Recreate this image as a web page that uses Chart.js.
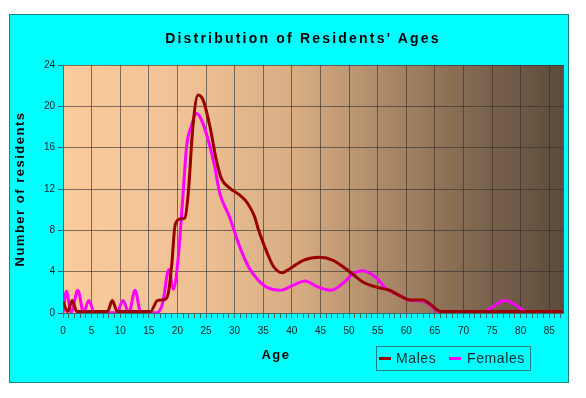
<!DOCTYPE html>
<html lang="en">
<head>
    <meta charset="UTF-8">
    <title>Distribution of Residents' Ages</title>
    <style>
        body { margin: 0; background: #fff; font-family: "Liberation Sans", Arial, sans-serif; }
        #wrap { position: relative; width: 586px; height: 398px; }
        #frame { position: absolute; left: 9px; top: 14px; width: 560px; height: 369px; box-sizing: border-box;
                 background: #00ffff; border: 1px solid #1f7f7f; }
        canvas { position: absolute; left: 0; top: 0; }
        .txt { position: absolute; white-space: nowrap; }
        #title { left: 103px; width: 400px; top: 30px; line-height: 16px; text-align: center;
                 font-weight: bold; font-size: 14px; letter-spacing: 2.2px; color: #000; }
        #xtitle { left: 240px; width: 72px; top: 347px; line-height: 16px; text-align: center;
                  font-weight: bold; font-size: 13px; letter-spacing: 1.5px; color: #000; }
        #legend { position: absolute; left: 376px; top: 346px; width: 155px; height: 25px; box-sizing: border-box;
                  border: 1px solid #1f7f7f; }
        .mark { position: absolute; top: 10px; width: 12px; height: 3px; }
        .lab { position: absolute; top: 3px; line-height: 17px; font-size: 14px; letter-spacing: 0.6px; color: #0d2b2b; }
    </style>
</head>
<body>
<div id="wrap">
    <div id="frame"></div>
    <canvas id="ages" width="586" height="398"></canvas>
    <div class="txt" id="title">Distribution of Residents' Ages</div>
    <div class="txt" id="xtitle">Age</div>
    <div id="legend">
        <span class="mark" style="left:2px;background:#990000"></span>
        <span class="lab" style="left:19px">Males</span>
        <span class="mark" style="left:72px;background:#ff00ff"></span>
        <span class="lab" style="left:90px">Females</span>
    </div>
</div>

<script src="https://cdn.jsdelivr.net/npm/chart.js"></script>
<script>
    // ages (years) and number of residents
    const maleAges = [0, 0.8, 1.6, 2.4, 7.8, 8.6, 9.5, 15.3, 16.5, 17.7, 18.4, 19.0, 19.6, 20.5, 21.3, 21.9,
        22.7, 23.6, 24.5, 25.7, 26.8, 27.7, 29.1, 30.9, 32.3, 33.5, 34.2, 35.7, 36.8, 38.3, 39.7, 42.0,
        44.9, 47.2, 50.1, 52.4, 54.8, 57.1, 59.1, 60.8, 62.9, 64.3, 66.0, 87.4];
    const maleCounts = [1.1, 0.15, 1.2, 0.15, 0.15, 1.2, 0.15, 0.15, 1.2, 1.3, 1.9, 4.6, 8.5, 9.1, 9.2, 11.6,
        18.0, 21.1, 20.6, 18.0, 14.8, 13.0, 12.1, 11.4, 10.6, 9.3, 8.0, 5.8, 4.5, 3.9, 4.3, 5.1,
        5.4, 5.1, 4.0, 3.0, 2.5, 2.2, 1.6, 1.25, 1.25, 0.8, 0.15, 0.15];

    const femaleAges = [0, 0.6, 1.4, 2.6, 3.6, 4.5, 5.5, 9.4, 10.5, 11.5, 12.6, 13.6, 16.4, 17.4, 18.5, 19.3,
        20.1, 21.0, 21.6, 22.5, 23.3, 24.2, 25.4, 26.5, 27.4, 29.1, 30.9, 32.6, 34.1, 35.6, 38.0, 40.3,
        42.3, 44.6, 46.9, 49.0, 50.7, 52.4, 54.8, 56.4, 58.8, 60.8, 62.9, 64.3, 66.0, 73.0, 77.3, 81.7, 87.4];
    const femaleCounts = [0.03, 2.1, 0.03, 2.2, 0.03, 1.2, 0.03, 0.03, 1.2, 0.03, 2.2, 0.03, 0.03, 0.9, 4.2, 2.3,
        5.1, 11.6, 16.1, 18.2, 19.3, 18.7, 16.7, 14.2, 11.6, 9.3, 6.4, 4.3, 3.2, 2.5, 2.2, 2.7,
        3.1, 2.5, 2.2, 2.9, 3.8, 4.1, 3.4, 2.4, 1.7, 1.2, 1.15, 0.7, 0.03, 0.03, 1.2, 0.03, 0.03];

    const ageMax = 87.4;
    const countMax = 24;

    const gridCol = 'rgba(45,45,45,0.6)';
    const axisCol = '#3d6b6b';
    const tickCol = '#082020';

    const plotBg = {
        id: 'plotBg',
        beforeDraw(chart) {
            const ctx = chart.ctx;
            const a = chart.chartArea;
            const g = ctx.createLinearGradient(a.left, 0, a.right, 0);
            g.addColorStop(0, '#fbcb9c');
            g.addColorStop(0.27, '#eec094');
            g.addColorStop(0.47, '#d6ac82');
            g.addColorStop(0.67, '#a58464');
            g.addColorStop(0.83, '#7d654e');
            g.addColorStop(1, '#5c4c3c');
            ctx.save();
            ctx.fillStyle = g;
            ctx.fillRect(a.left, a.top, a.right - a.left, a.bottom - a.top);
            ctx.restore();
            // axis title gets wide letters, tick labels do not
            ctx.letterSpacing = '1.5px';
        },
        afterDatasetsDraw(chart) {
            const ctx = chart.ctx;
            const a = chart.chartArea;
            ctx.letterSpacing = '0px';
            ctx.save();
            ctx.strokeStyle = '#555';
            ctx.lineWidth = 1;
            ctx.beginPath();
            ctx.moveTo(Math.round(a.right) + 0.5, a.top);
            ctx.lineTo(Math.round(a.right) + 0.5, a.bottom);
            ctx.stroke();
            ctx.restore();
        }
    };

    new Chart(document.getElementById('ages').getContext('2d'), {
        type: 'line',
        data: {
            datasets: [{
                label: 'Males',
                data: maleAges.map((x, i) => ({x: x, y: maleCounts[i]})),
                borderColor: '#990000',
                borderWidth: 3,
                pointRadius: 0,
                cubicInterpolationMode: 'monotone',
                fill: false
            }, {
                label: 'Females',
                data: femaleAges.map((x, i) => ({x: x, y: femaleCounts[i]})),
                borderColor: '#ff00ff',
                borderWidth: 3,
                pointRadius: 0,
                cubicInterpolationMode: 'monotone',
                fill: false
            }]
        },
        options: {
            responsive: false,
            animation: false,
            devicePixelRatio: 1,
            layout: { padding: { left: 0, top: 65, right: 23, bottom: 55 } },
            plugins: {
                legend: { display: false },
                title: { display: false },
                tooltip: { enabled: false }
            },
            scales: {
                x: {
                    type: 'linear',
                    min: 0,
                    max: ageMax,
                    afterFit(scale) { scale.height = 30; },
                    border: { color: axisCol, width: 1 },
                    grid: {
                        color: c => (c.tick && c.tick.value % 5 === 0) ? gridCol : 'rgba(0,0,0,0)',
                        tickColor: axisCol,
                        tickLength: 5
                    },
                    ticks: {
                        z: 1,
                        stepSize: 1,
                        maxTicksLimit: 100,
                        includeBounds: false,
                        autoSkip: false,
                        maxRotation: 0,
                        padding: 7,
                        color: tickCol,
                        font: { family: '"Liberation Sans", Arial, sans-serif', size: 10 },
                        callback: v => v % 5 === 0 ? String(v) : ''
                    }
                },
                y: {
                    min: 0,
                    max: countMax,
                    afterFit(scale) { scale.width = 63; },
                    border: { color: axisCol, width: 1 },
                    grid: { color: gridCol, tickColor: axisCol, tickLength: 5 },
                    ticks: {
                        z: 1,
                        stepSize: 4,
                        padding: 3,
                        color: tickCol,
                        font: { family: '"Liberation Sans", Arial, sans-serif', size: 10 }
                    },
                    title: {
                        display: true,
                        text: 'Number of residents',
                        color: '#000',
                        padding: { top: 13, bottom: 0 },
                        font: { family: '"Liberation Sans", Arial, sans-serif', size: 13, weight: 'bold' }
                    }
                }
            }
        },
        plugins: [plotBg]
    });
</script>
</body>
</html>
